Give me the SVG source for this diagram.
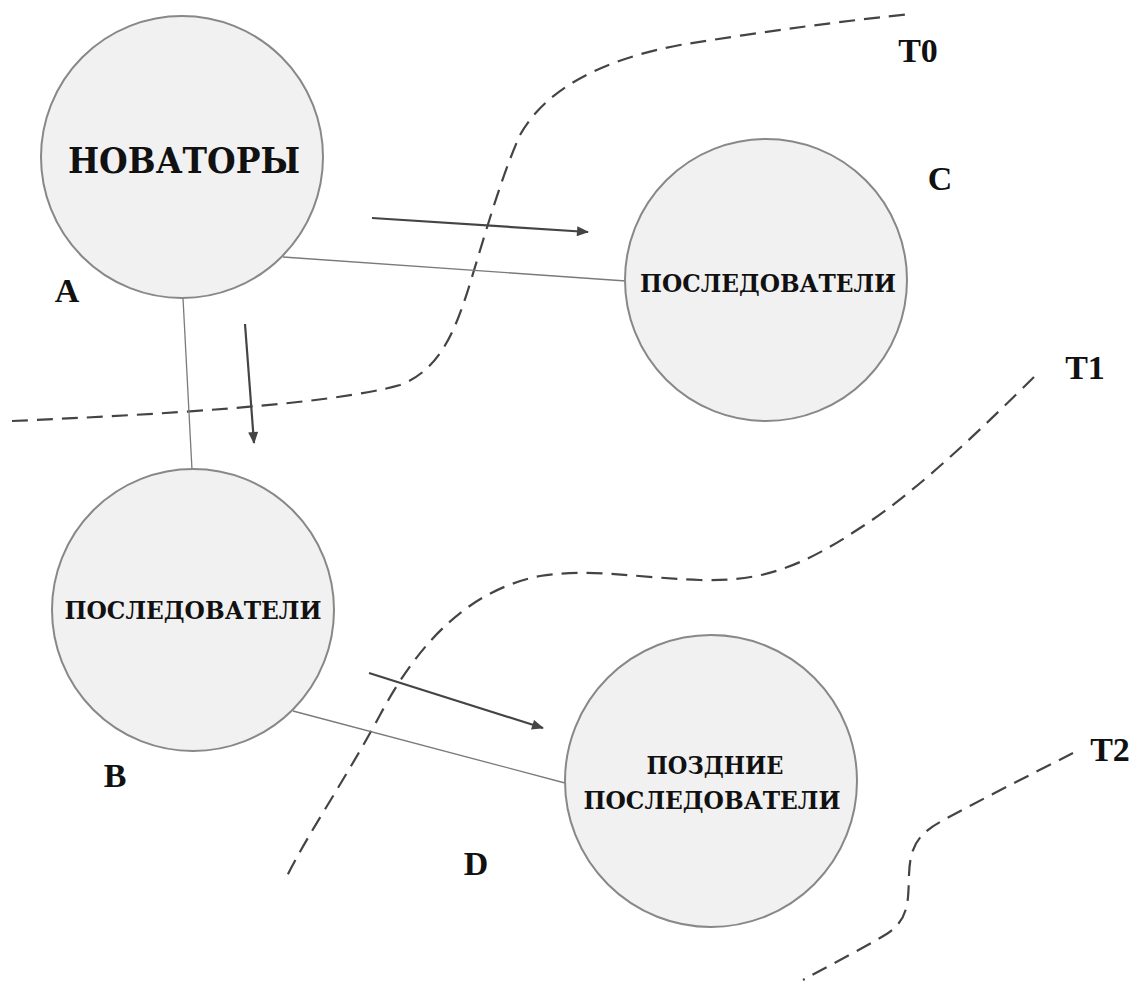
<svg xmlns="http://www.w3.org/2000/svg" width="1142" height="985" viewBox="0 0 1142 985">
<style>
.node{fill:#f1f1f1;stroke:#888;stroke-width:2}
.t{font-family:"Liberation Serif","Times New Roman",serif;font-weight:bold;fill:#111;text-anchor:middle}
.cy{font-family:"DejaVu Serif Condensed","DejaVu Serif","Liberation Serif",serif;font-weight:bold;fill:#111;text-anchor:middle}
.big{font-size:36px}
.mid{font-size:25px}
.lbl{font-size:34px}
.link{stroke:#7a7a7a;stroke-width:1.3;fill:none}
.arrow{stroke:#444;stroke-width:2.2;fill:none;marker-end:url(#ah)}
.bound{stroke:#444;stroke-width:2.2;fill:none;stroke-dasharray:16 9}
</style>
<defs>
<marker id="ah" viewBox="0 0 12 10" refX="11" refY="5" markerWidth="13" markerHeight="10" markerUnits="userSpaceOnUse" orient="auto">
<path d="M0 0 L12 5 L0 10 Z" fill="#444"/>
</marker>
</defs>
<rect width="1142" height="985" fill="#fff"/>
<g id="boundaries">
<path class="bound" d="M12 421 C150 415, 330 405, 400 385 C440 370, 455 330, 468 290 C485 235, 500 180, 520 135 C545 90, 600 60, 680 45 C760 32, 850 20, 912 14"/>
<path class="bound" d="M1034 377 C990 420, 920 490, 860 528 C800 568, 760 582, 700 580 C640 578, 590 568, 540 576 C470 590, 420 640, 380 715 C345 780, 310 830, 286 878"/>
<path class="bound" d="M1073 753 C1030 775, 980 800, 940 822 C915 836, 910 850, 909 875 C908 900, 910 920, 885 935 C860 950, 830 965, 803 980"/>
</g>
<g id="connectors">
<line class="link" x1="283" y1="257" x2="626" y2="281"/>
<line class="link" x1="183" y1="298" x2="192" y2="470"/>
<line class="link" x1="293" y1="711" x2="565" y2="783"/>
<line class="arrow" x1="372" y1="218" x2="588" y2="232"/>
<line class="arrow" x1="245" y1="324" x2="254" y2="443"/>
<line class="arrow" x1="369" y1="673" x2="543" y2="728"/>
</g>
<g id="nodeA">
<circle class="node" cx="182" cy="157" r="141"/>
<text class="cy big" x="184" y="173" textLength="232" lengthAdjust="spacingAndGlyphs">НОВАТОРЫ</text>
</g>
<g id="nodeC">
<circle class="node" cx="766" cy="280" r="141"/>
<text class="cy mid" x="768" y="292" textLength="256" lengthAdjust="spacingAndGlyphs">ПОСЛЕДОВАТЕЛИ</text>
</g>
<g id="nodeB">
<circle class="node" cx="193" cy="610" r="141"/>
<text class="cy mid" x="193" y="619" textLength="257" lengthAdjust="spacingAndGlyphs">ПОСЛЕДОВАТЕЛИ</text>
</g>
<g id="nodeD">
<circle class="node" cx="711" cy="781" r="146"/>
<text class="cy mid" x="715" y="774" textLength="137" lengthAdjust="spacingAndGlyphs">ПОЗДНИЕ</text>
<text class="cy mid" x="712" y="809" textLength="257" lengthAdjust="spacingAndGlyphs">ПОСЛЕДОВАТЕЛИ</text>
</g>
<g id="labels">
<text class="t lbl" x="67" y="302">A</text>
<text class="t lbl" x="115" y="787">B</text>
<text class="t lbl" x="940" y="190">C</text>
<text class="t lbl" x="476" y="875">D</text>
<text class="t lbl" x="918" y="62">T0</text>
<text class="t lbl" x="1085" y="379">T1</text>
<text class="t lbl" x="1110" y="761">T2</text>
</g>
</svg>
